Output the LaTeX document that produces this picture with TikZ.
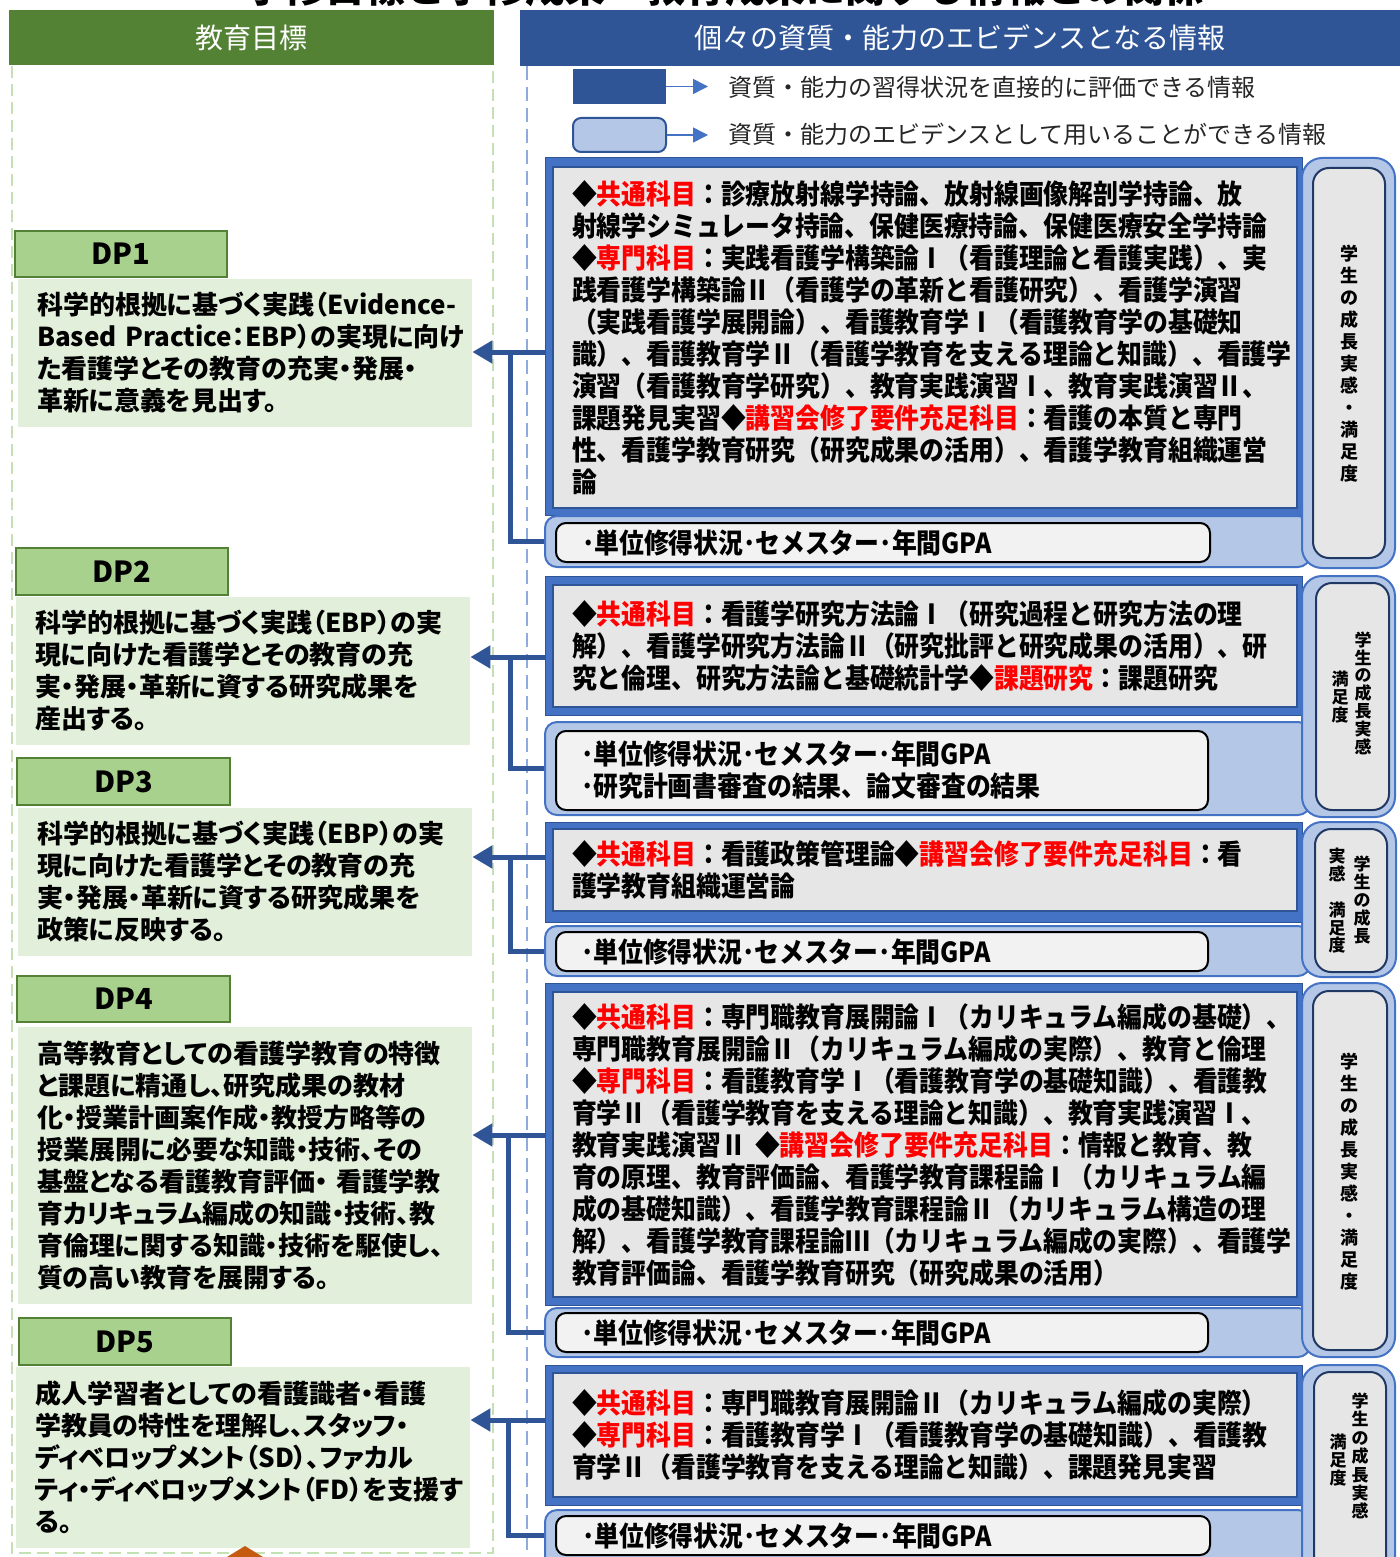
\documentclass[tikz,border=0pt]{standalone}
\usepackage{fontspec}
\setmainfont{Noto Sans CJK JP}
\newfontfamily\jp{Noto Sans CJK JP}
\newfontfamily\jpp{Noto Sans CJK JP}[RawFeature=+palt]
\newfontfamily\jpn{Noto Sans CJK JP}[FakeStretch=0.9]
\usepackage{xcolor}
\usetikzlibrary{arrows.meta,fit}

\definecolor{hdgreen}{HTML}{548235}
\definecolor{dpgreen}{HTML}{A9D18E}
\definecolor{dpline}{HTML}{538135}
\definecolor{dpfill}{HTML}{E2EFDA}
\definecolor{dashgreen}{HTML}{C5E0B4}
\definecolor{hdblue}{HTML}{2F5597}
\definecolor{midblue}{HTML}{4472C4}
\definecolor{paleblue}{HTML}{B4C7E7}
\definecolor{dashblue}{HTML}{8FAADC}
\definecolor{boxgray}{HTML}{E7E6E6}
\definecolor{gpafill}{HTML}{F2F2F2}
\definecolor{navy}{HTML}{1F3864}
\definecolor{kred}{HTML}{FF0000}
\definecolor{orng}{HTML}{C55A11}

\newcommand{\kw}[1]{\textcolor{kred}{#1}}
\newcommand{\dpfont}{\jpp\bfseries\fontsize{13}{16}\selectfont\hyphenpenalty=10000}
\newcommand{\secfont}{\jpn\bfseries\fontsize{13.8}{16}\selectfont}

\begin{document}
\begin{tikzpicture}[x=0.5pt, y=-0.5pt,
    topbar/.style={inner sep=0pt},
    toptxt/.style={inner sep=0pt, text=white, font=\jp\fontsize{14}{16}\selectfont},
    dphead/.style={draw=dpline, line width=1pt, fill=dpgreen, inner sep=0pt},
    dplab/.style={inner sep=0pt, font=\jp\bfseries\fontsize{14.5}{16}\selectfont},
    dpbox/.style={fill=dpfill, inner sep=0pt},
    dptxt/.style={inner sep=0pt, text width=208pt, align=left, font=\dpfont},
    outframe/.style={draw=hdblue, line width=0.5pt, fill=midblue, inner sep=0pt},
    inbox/.style={draw=hdblue, line width=0.75pt, fill=boxgray, inner sep=0pt},
    sectxt/.style={inner sep=0pt, text width=353pt, align=left, font=\secfont},
    gpaband/.style={draw=midblue, line width=1pt, fill=paleblue, rounded corners=6pt, inner sep=0pt},
    gpabox/.style={draw=black, line width=1pt, fill=gpafill, rounded corners=5pt, inner sep=0pt},
    gpatxt/.style={inner sep=0pt, text width=301pt, align=left, font=\secfont},
    sidebox/.style={draw=midblue, line width=1pt, fill=paleblue, rounded corners=10pt, inner sep=0pt},
    sidein/.style={draw=navy, line width=1pt, fill=boxgray, rounded corners=8pt, inner sep=0pt},
    vtxt/.style={inner sep=0pt, align=center, font=\jp\bfseries\fontsize{9}{11}\selectfont},
    vtxs/.style={vtxt, font=\jp\bfseries\fontsize{8.5}{8.9}\selectfont},
    legtxt/.style={inner sep=0pt, anchor=west, text=black!85, font=\jp\fontsize{12}{14}\selectfont},
    legarr/.style={draw=midblue, line width=0.8pt, -{Triangle[length=7.5pt,width=7.5pt]}, shorten >=10pt},
    linkline/.style={draw=hdblue, line width=2.5pt},
    linkarr/.style={linkline, -{Triangle[length=10pt,width=11pt]}}
  ]
  \useasboundingbox (0,0) rectangle (1400,1557);
  \clip (0,0) rectangle (1400,1557);

  % title, cut by the page edge
  \node[anchor=base, inner sep=0pt, font=\jp\bfseries\fontsize{20}{22}\selectfont] (ttl) at (725,3) {学修目標と学修成果・教育成果に関する情報との関係};

  % column heads
  \node[topbar, fill=hdgreen, fit={(9,10) (494,65)}] (hg) {};
  \node[toptxt] (hgt) at (hg.center) {教育目標};
  \node[topbar, fill=hdblue, fit={(520,10) (1400,66)}] (hb) {};
  \node[toptxt] (hbt) at (hb.center) {個々の資質・能力のエビデンスとなる情報};
  \draw[dashgreen, line width=1.2pt, dash pattern=on 6pt off 3pt] (12,66) -- (12,1553) -- (493,1553) -- (493,66);
  \draw[dashblue, line width=1.2pt, dash pattern=on 7pt off 3.5pt] (527,66) -- (527,1557);

  % legend
  \node[fill=hdblue, inner sep=0pt, fit={(573,69) (666,104)}] (l1) {};
  \node[fill=paleblue, draw=hdblue, line width=1pt, rounded corners=4pt, inner sep=0pt, fit={(573,118) (666,152)}] (l2) {};
  \node[legtxt] (lt1) at (728,87) {資質・能力の習得状況を直接的に評価できる情報};
  \node[legtxt] (lt2) at (728,134) {資質・能力のエビデンスとして用いることができる情報};
  \draw[legarr] (l1.east) -- (lt1.west |- l1.east);
  \draw[legarr] (l2.east) -- (lt2.west |- l2.east);

  % DP
  \node[dphead, fit={(15,231) (227,277)}] (h1) {};
  \node[dplab] (n1) at (h1.center) {DP1};
  \node[dpbox, fit={(18,279) (472,427)}] (d1) {};
  \node[dptxt, text width=224pt, xshift=8pt] (t1) at (d1.center) {科学的根拠に基づく実践（Evidence-\\Based~Practice：EBP）の実現に向け\\た看護学とその教育の充実・発展・\\革新に意義を見出す。};
  \node[dphead, fit={(16,548) (228,595)}] (h2) {};
  \node[dplab] (n2) at (h2.center) {DP2};
  \node[dpbox, fit={(16,597) (470,745)}] (d2) {};
  \node[dptxt] (t2) at (d2.center) {科学的根拠に基づく実践（EBP）の実\\現に向けた看護学とその教育の充\\実・発展・革新に資する研究成果を\\産出する。};
  \node[dphead, fit={(17,758) (230,805)}] (h3) {};
  \node[dplab] (n3) at (h3.center) {DP3};
  \node[dpbox, fit={(18,808) (472,956)}] (d3) {};
  \node[dptxt] (t3) at (d3.center) {科学的根拠に基づく実践（EBP）の実\\現に向けた看護学とその教育の充\\実・発展・革新に資する研究成果を\\政策に反映する。};
  \node[dphead, fit={(17,976) (230,1022)}] (h4) {};
  \node[dplab] (n4) at (h4.center) {DP4};
  \node[dpbox, fit={(18,1027) (472,1304)}] (d4) {};
  \node[dptxt] (t4) at (d4.center) {高等教育としての看護学教育の特徴\\と課題に精通し、研究成果の教材\\化・授業計画案作成・教授方略等の\\授業展開に必要な知識・技術、その\\基盤となる看護教育評価・~看護学教\\育カリキュラム編成の知識・技術、教\\育倫理に関する知識・技術を駆使し、\\質の高い教育を展開する。};
  \node[dphead, fit={(19,1318) (231,1365)}] (h5) {};
  \node[dplab] (n5) at (h5.center) {DP5};
  \node[dpbox, fit={(16,1367) (470,1548)}] (d5) {};
  \node[dptxt] (t5) at (d5.center) {成人学習者としての看護識者・看護\\学教員の特性を理解し、スタッフ・\\ディベロップメント（SD）、ファカル\\ティ・ディベロップメント（FD）を支援す\\る。};

  % evidence, block 1
  \node[outframe, fit={(545,158) (1302,515)}] (f1) {};
  \node[inbox, fit={(553,167) (1297,508)}] (s1) {};
  \node[sectxt] (e1) at (s1.center) {◆\kw{共通科目}：診療放射線学持論、放射線画像解剖学持論、放\\射線学シミュレータ持論、保健医療持論、保健医療安全学持論\\◆\kw{専門科目}：実践看護学構築論Ⅰ（看護理論と看護実践）、実\\践看護学構築論Ⅱ（看護学の革新と看護研究）、看護学演習\\（実践看護学展開論）、看護教育学Ⅰ（看護教育学の基礎知\\識）、看護教育学Ⅱ（看護学教育を支える理論と知識）、看護学\\演習（看護教育学研究）、教育実践演習Ⅰ、教育実践演習Ⅱ、\\課題発見実習◆\kw{講習会修了要件充足科目}：看護の本質と専門\\性、看護学教育研究（研究成果の活用）、看護学教育組織運営\\論};
  \node[gpaband, fit={(545,516) (1310,567)}] (b1) {};
  \node[gpabox, fit={(556,523) (1210,562)}] (g1) {};
  \node[gpatxt] (c1) at (g1.center) {･単位修得状況･セメスター･年間GPA};
  \node[sidebox, fit={(1302,158) (1395,568)}] (p1) {};
  \node[sidein, fit={(1313,168) (1385,558)}] (q1) {};
  \node[vtxt] (v1) at (1349,364) {学\\生\\の\\成\\長\\実\\感\\・\\満\\足\\度};

  % evidence, block 2
  \node[outframe, fit={(545,576) (1302,715)}] (f2) {};
  \node[inbox, fit={(553,585) (1297,707)}] (s2) {};
  \node[sectxt] (e2) at (s2.center) {◆\kw{共通科目}：看護学研究方法論Ⅰ（研究過程と研究方法の理\\解）、看護学研究方法論Ⅱ（研究批評と研究成果の活用）、研\\究と倫理、研究方法論と基礎統計学◆\kw{課題研究}：課題研究};
  \node[gpaband, fit={(545,722) (1310,815)}] (b2) {};
  \node[gpabox, fit={(556,731) (1208,810)}] (g2) {};
  \node[gpatxt] (c2) at (g2.center) {･単位修得状況･セメスター･年間GPA\\･研究計画書審査の結果、論文審査の結果};
  \node[sidebox, fit={(1302,576) (1395,817)}] (p2) {};
  \node[sidein, fit={(1316,583) (1389,810)}] (q2) {};
  \node[vtxs] (v2a) at (1363,693) {学\\生\\の\\成\\長\\実\\感};
  \node[vtxs] (v2b) at (1340,697) {満\\足\\度};

  % evidence, block 3
  \node[outframe, fit={(545,822) (1302,922)}] (f3) {};
  \node[inbox, fit={(553,829) (1297,911)}] (s3) {};
  \node[sectxt] (e3) at (s3.center) {◆\kw{共通科目}：看護政策管理論◆\kw{講習会修了要件充足科目}：看\\護学教育組織運営論};
  \node[gpaband, fit={(545,926) (1310,976)}] (b3) {};
  \node[gpabox, fit={(556,932) (1208,971)}] (g3) {};
  \node[gpatxt] (c3) at (g3.center) {･単位修得状況･セメスター･年間GPA};
  \node[sidebox, fit={(1302,822) (1396,977)}] (p3) {};
  \node[sidein, fit={(1315,829) (1387,972)}] (q3) {};
  \node[vtxs] (v3a) at (1362,900) {学\\生\\の\\成\\長};
  \node[vtxs] (v3b) at (1337,901) {実\\感\\\mbox{}\\満\\足\\度};

  % evidence, block 4
  \node[outframe, fit={(545,983) (1302,1305)}] (f4) {};
  \node[inbox, fit={(553,992) (1297,1297)}] (s4) {};
  \node[sectxt] (e4) at (s4.center) {◆\kw{共通科目}：専門職教育展開論Ⅰ（カリキュラム編成の基礎）、\\専門職教育展開論Ⅱ（カリキュラム編成の実際）、教育と倫理\\◆\kw{専門科目}：看護教育学Ⅰ（看護教育学の基礎知識）、看護教\\育学Ⅱ（看護学教育を支える理論と知識）、教育実践演習Ⅰ、\\教育実践演習Ⅱ~◆\kw{講習会修了要件充足科目}：情報と教育、教\\育の原理、教育評価論、看護学教育課程論Ⅰ（カリキュラム編\\成の基礎知識）、看護学教育課程論Ⅱ（カリキュラム構造の理\\解）、看護学教育課程論Ⅲ（カリキュラム編成の実際）、看護学\\教育評価論、看護学教育研究（研究成果の活用）};
  \node[gpaband, fit={(545,1308) (1310,1357)}] (b4) {};
  \node[gpabox, fit={(556,1313) (1208,1352)}] (g4) {};
  \node[gpatxt] (c4) at (g4.center) {･単位修得状況･セメスター･年間GPA};
  \node[sidebox, fit={(1302,983) (1395,1357)}] (p4) {};
  \node[sidein, fit={(1313,991) (1387,1350)}] (q4) {};
  \node[vtxt] (v4) at (1349,1172) {学\\生\\の\\成\\長\\実\\感\\・\\満\\足\\度};

  % evidence, block 5
  \node[outframe, fit={(545,1365) (1302,1505)}] (f5) {};
  \node[inbox, fit={(553,1373) (1297,1497)}] (s5) {};
  \node[sectxt] (e5) at (s5.center) {◆\kw{共通科目}：専門職教育展開論Ⅱ（カリキュラム編成の実際）\\◆\kw{専門科目}：看護教育学Ⅰ（看護教育学の基礎知識）、看護教\\育学Ⅱ（看護学教育を支える理論と知識）、課題発見実習};
  \node[gpaband, fit={(545,1510) (1310,1580)}] (b5) {};
  \node[gpabox, fit={(556,1516) (1210,1555)}] (g5) {};
  \node[gpatxt] (c5) at (g5.center) {･単位修得状況･セメスター･年間GPA};
  \node[sidebox, fit={(1302,1365) (1395,1595)}] (p5) {};
  \node[sidein, fit={(1314,1372) (1386,1585)}] (q5) {};
  \node[vtxs, font=\jp\bfseries\fontsize{8.5}{9.2}\selectfont] (v5a) at (1360,1456) {学\\生\\の\\成\\長\\実\\感};
  \node[vtxs, font=\jp\bfseries\fontsize{8.5}{9.2}\selectfont] (v5b) at (1338,1460) {満\\足\\度};

  % links to the DPs
  \coordinate (j1) at (510,352);
  \coordinate (j2) at (510,657);
  \coordinate (j3) at (510,857);
  \coordinate (j4) at (508,1135);
  \coordinate (j5) at (508,1420);
  \draw[linkarr] (f1.west |- j1) -- (d1.east |- j1);
  \draw[linkline] (b1.west) -| (j1);
  \draw[linkarr] (f2.west |- j2) -- (d2.east |- j2);
  \draw[linkline] (b2.west) -| (j2);
  \draw[linkarr] (f3.west |- j3) -- (d3.east |- j3);
  \draw[linkline] (b3.west) -| (j3);
  \draw[linkarr] (f4.west |- j4) -- (d4.east |- j4);
  \draw[linkline] (b4.west) -| (j4);
  \draw[linkarr] (f5.west |- j5) -- (d5.east |- j5);
  \draw[linkline] (b5.west |- g5.west) -| (j5);

  \fill[orng] (222,1560) -- (245,1546) -- (268,1560) -- cycle;
\end{tikzpicture}
\end{document}
